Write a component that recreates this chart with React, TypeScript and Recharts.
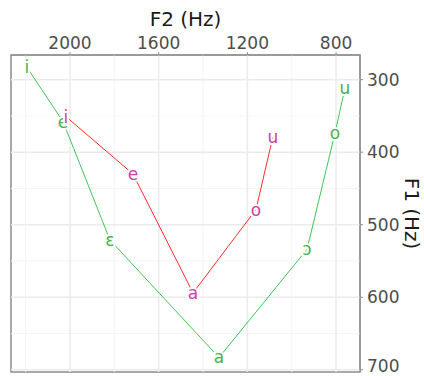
import React from "react";
import {
  ComposedChart,
  Line,
  XAxis,
  YAxis,
  ReferenceLine,
  ReferenceArea,
  Label,
} from "recharts";

// vowel chart: F2 on top (reversed), F1 on right (reversed)
const greenVowels = ["i", "e", "ɛ", "a", "ɔ", "o", "u"];
const greenF2 = [2194, 2031, 1820, 1328, 931, 805, 760];
const greenF1 = [283, 358, 521, 683, 534, 374, 312];

const pinkVowels = ["i", "e", "a", "o", "u"];
const pinkF2 = [2018, 1716, 1445, 1161, 1085];
const pinkF1 = [351, 430, 594, 479, 379];

const f2Ticks = [2000, 1600, 1200, 800];
const f2Minor = [2200, 1800, 1400, 1000];
const f1Ticks = [300, 400, 500, 600, 700];
const f1Minor = [350, 450, 550, 650];

const F2_DOMAIN = [692, 2266];
const F1_DOMAIN = [266, 703];

const greenData = greenVowels.map((v, i) => ({ vowel: v, f2: greenF2[i], f1: greenF1[i] }));
const pinkData = pinkVowels.map((v, i) => ({ vowel: v, f2: pinkF2[i], f1: pinkF1[i] }));

const FONT = "DejaVu Sans, sans-serif";

function vowelDot(color: string) {
  return (props: any) => {
    const { cx, cy, payload, index } = props;
    return (
      <text
        key={index}
        x={cx}
        y={cy}
        textAnchor="middle"
        dominantBaseline="central"
        fontFamily={FONT}
        fontSize={17}
        fill={color}
        stroke="#fff"
        strokeWidth={4}
        paintOrder="stroke"
      >
        {payload.vowel}
      </text>
    );
  };
}

export default function App() {
  return (
    <div style={{ position: "absolute", left: 0, top: 0, background: "#fff" }}>
      <ComposedChart
        width={424}
        height={376}
        margin={{ top: 25, right: 0, bottom: 4, left: 11 }}
      >
        <XAxis
          dataKey="f2"
          type="number"
          orientation="top"
          domain={F2_DOMAIN}
          reversed
          allowDataOverflow
          ticks={f2Ticks}
          height={30}
          tickSize={3}
          tickMargin={3}
          stroke="#8c8c8c"
          tick={{ fill: "#4d4d4d", fontSize: 17, fontFamily: FONT }}
        >
          <Label
            value="F2 (Hz)"
            position="top"
            offset={-1}
            style={{ fill: "#1a1a1a", fontSize: 20, fontFamily: FONT }}
          />
        </XAxis>
        <YAxis
          dataKey="f1"
          type="number"
          orientation="right"
          domain={F1_DOMAIN}
          reversed
          allowDataOverflow
          ticks={f1Ticks}
          width={64}
          tickSize={3}
          tickMargin={4}
          stroke="#8c8c8c"
          tick={{ fill: "#4d4d4d", fontSize: 17, fontFamily: FONT, textAnchor: "start" }}
        >
          <Label
            value="F1 (Hz)"
            angle={90}
            position="right"
            offset={-12}
            style={{ fill: "#1a1a1a", fontSize: 20, fontFamily: FONT, textAnchor: "middle" }}
          />
        </YAxis>

        {f2Minor.map((v) => (
          <ReferenceLine key={"xm" + v} x={v} stroke="#f4f4f4" strokeWidth={1} />
        ))}
        {f1Minor.map((v) => (
          <ReferenceLine key={"ym" + v} y={v} stroke="#f4f4f4" strokeWidth={1} />
        ))}
        {f2Ticks.map((v) => (
          <ReferenceLine key={"x" + v} x={v} stroke="#ebebeb" strokeWidth={1.5} />
        ))}
        {f1Ticks.map((v) => (
          <ReferenceLine key={"y" + v} y={v} stroke="#ebebeb" strokeWidth={1.5} />
        ))}
        <ReferenceArea
          x1={F2_DOMAIN[0]}
          x2={F2_DOMAIN[1]}
          y1={F1_DOMAIN[0]}
          y2={F1_DOMAIN[1]}
          fill="none"
          stroke="#8c8c8c"
          strokeWidth={1.5}
          fillOpacity={0}
        />

        <Line
          data={greenData}
          dataKey="f1"
          type="linear"
          stroke="#3fc45a"
          strokeWidth={1}
          dot={vowelDot("#4caf50")}
          activeDot={false}
          isAnimationActive={false}
        />
        <Line
          data={pinkData}
          dataKey="f1"
          type="linear"
          stroke="#ff2b2b"
          strokeWidth={1}
          dot={vowelDot("#cc3fa6")}
          activeDot={false}
          isAnimationActive={false}
        />
      </ComposedChart>
    </div>
  );
}
